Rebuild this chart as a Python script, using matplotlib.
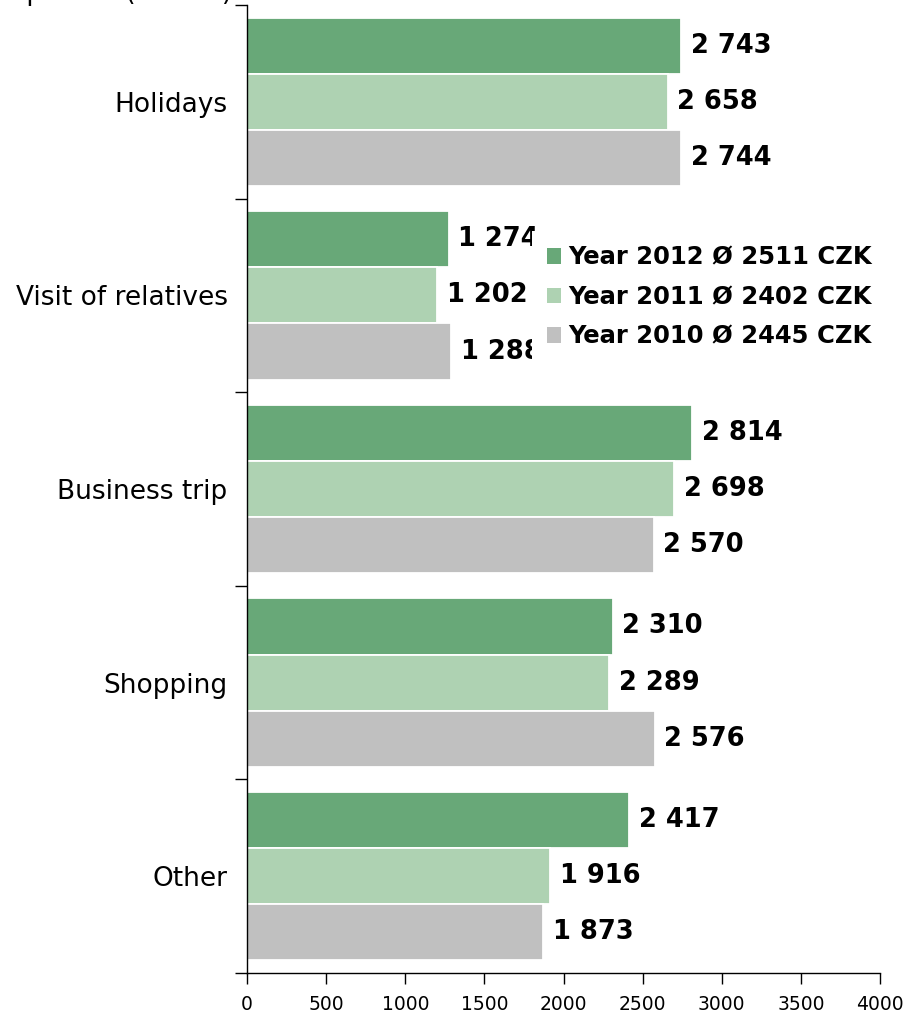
import matplotlib.pyplot as plt
import numpy as np
from matplotlib.patches import Patch

# data
categories = ['Holidays', 'Visit of relatives', 'Business trip', 'Shopping', 'Other']
years = ['2012', '2011', '2010']
averages = [2511, 2402, 2445]
v2012 = [2743, 1274, 2814, 2310, 2417]
v2011 = [2658, 1202, 2698, 2289, 1916]
v2010 = [2744, 1288, 2570, 2576, 1873]
series = [v2012, v2011, v2010]
colors = ['#68a878', '#aed2b2', '#c0c0c0']

plt.rcParams['font.family'] = ['DejaVu Sans']

W, H = 908, 1014
fig = plt.figure(figsize=(W / 100, H / 100), dpi=100)
ax = fig.add_axes([247 / W, 1 - 973 / H, (880 - 247) / W, (973 - 5) / H])

y = np.arange(len(categories))
bh = 0.29
offsets = [-bh, 0, bh]
for vals, off, c in zip(series, offsets, colors):
    bars = ax.barh(y + off, vals, height=bh, color=c, edgecolor='white', linewidth=1.3)
    labels = [f'{v:,}'.replace(',', ' ') for v in vals]
    ax.bar_label(bars, labels=labels, padding=7, fontsize=18.5, fontweight='bold', color='black')

ax.set_xlim(0, 4000)
ax.set_ylim(len(categories) - 0.5, -0.5)
ax.set_xticks(np.arange(0, 4001, 500))
ax.set_yticks(y)
ax.set_yticklabels(categories, fontsize=19)
ax.set_yticks(np.arange(-0.5, len(categories)), minor=True)
ax.tick_params(axis='y', which='major', length=0, pad=14)
ax.tick_params(axis='y', which='minor', length=9, width=1, direction='out')
ax.tick_params(axis='x', length=8, width=1, direction='out', labelsize=13.5, pad=8)
for s in ['top', 'right']:
    ax.spines[s].set_visible(False)
for s in ['left', 'bottom']:
    ax.spines[s].set_linewidth(1)
    ax.spines[s].set_color('black')

handles = [Patch(facecolor=c, edgecolor='none') for c in colors]
leg_labels = [f'Year {yr} Ø {a} CZK' for yr, a in zip(years, averages)]
leg = fig.legend(handles, leg_labels, loc='upper left',
                 bbox_to_anchor=(532 / W, 1 - 231 / H), bbox_transform=fig.transFigure,
                 prop={'size': 17.5, 'weight': 'bold'}, frameon=True, facecolor='white',
                 edgecolor='none', framealpha=1, fancybox=False, borderpad=0.6,
                 borderaxespad=0, handlelength=0.6, handleheight=0.6, handletextpad=0.3,
                 labelspacing=0.64)
leg.set_zorder(10)

# axis title, cut by the top edge in the original
fig.text(232 / W, 1.0, 'Expenditure per person (in CZK)', ha='right', va='baseline', fontsize=19)

fig.savefig('out.png', dpi=100)
